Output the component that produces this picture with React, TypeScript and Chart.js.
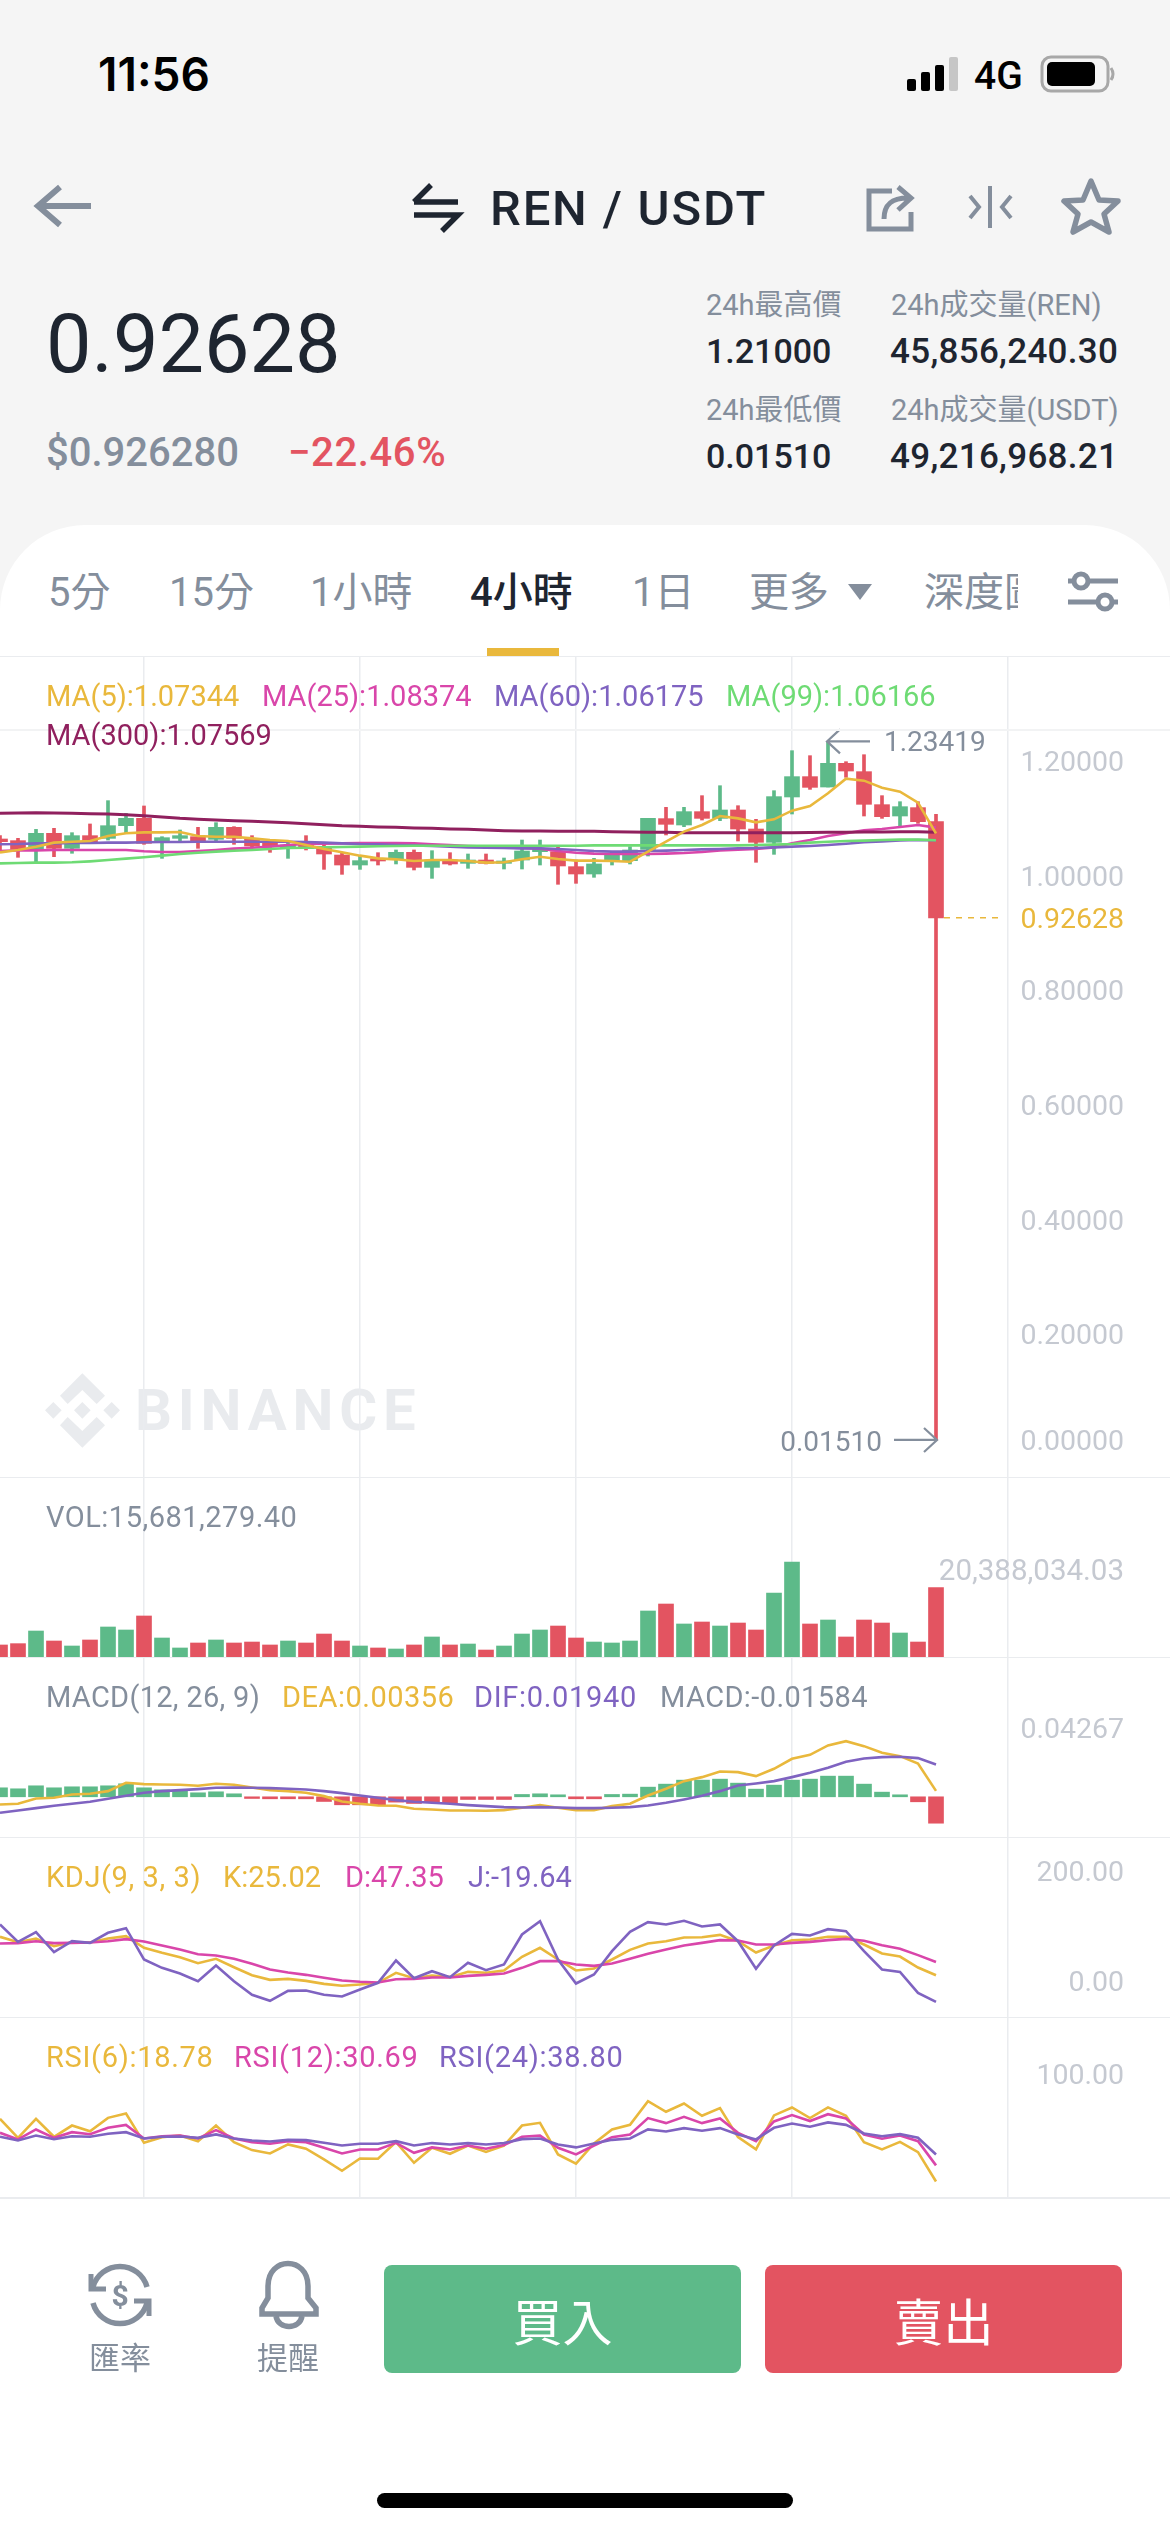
import React, { useEffect, useRef } from "react";
import { Chart, registerables } from "chart.js";

Chart.register(...registerables);

// ---------- values ----------
const candleSlots = Array.from({ length: 66 }, (_, i) => String(i));

const opens = [
  1.0639, 1.0610, 1.0458, 1.0738, 1.0476, 1.0697, 1.0650, 1.0871, 1.0999, 1.0592,
  1.0650, 1.0679, 1.0633, 1.0842, 1.0650, 1.0563, 1.0476, 1.0534, 1.0505, 1.0359,
  1.0185, 1.0296, 1.0290, 1.0406, 1.0144, 1.0272, 1.0214, 1.0272, 1.0214, 1.0272,
  1.0418, 1.0418, 1.0156, 1.0028, 1.0261, 1.0261, 1.0458, 1.0994, 1.0883, 1.1116,
  1.0999, 1.1145, 1.0813, 1.0581, 1.1372, 1.1727, 1.1546, 1.1959, 1.1814, 1.1238,
  1.1040, 1.1186, 1.0941,
];
const highs = [
  1.0697, 1.0650, 1.0807, 1.0825, 1.0749, 1.0901, 1.1308, 1.1087, 1.1215, 1.0679,
  1.0796, 1.0842, 1.0924, 1.0854, 1.0697, 1.0621, 1.0592, 1.0697, 1.0534, 1.0389,
  1.0342, 1.0400, 1.0447, 1.0447, 1.0435, 1.0400, 1.0377, 1.0377, 1.0307, 1.0621,
  1.0621, 1.0505, 1.0272, 1.0301, 1.0418, 1.0505, 1.0999, 1.1191, 1.1191, 1.1395,
  1.1569, 1.1220, 1.0982, 1.1482, 1.2180, 1.2093, 1.23419, 1.1988, 1.2110, 1.1395,
  1.1290, 1.1290, 1.1069,
];
const lows = [
  1.0418, 1.0319, 1.0243, 1.0330, 1.0389, 1.0563, 1.0621, 1.0749, 1.0546, 1.0301,
  1.0592, 1.0476, 1.0610, 1.0546, 1.0505, 1.0406, 1.0301, 1.0447, 1.0109, 1.0022,
  1.0109, 1.0185, 1.0203, 1.0098, 0.9952, 1.0185, 1.0127, 1.0203, 1.0115, 1.0115,
  1.0185, 0.9848, 0.9865, 0.9970, 1.0185, 1.0203, 1.0342, 1.0709, 1.0854, 1.0970,
  1.0959, 1.0604, 1.0232, 1.0371, 1.1075, 1.1505, 1.1546, 1.1715, 1.1040, 1.0999,
  1.0854, 1.0912, 0.0151,
];
const closes = [
  1.0592, 1.0458, 1.0738, 1.0476, 1.0697, 1.0592, 1.0871, 1.0999, 1.0563, 1.0662,
  1.0697, 1.0610, 1.0842, 1.0650, 1.0517, 1.0517, 1.0534, 1.0476, 1.0377, 1.0185,
  1.0261, 1.0255, 1.0406, 1.0144, 1.0272, 1.0203, 1.0272, 1.0214, 1.0255, 1.0429,
  1.0476, 1.0168, 1.0028, 1.0203, 1.0359, 1.0447, 1.0999, 1.0895, 1.1116, 1.0999,
  1.1145, 1.0813, 1.0581, 1.1378, 1.1727, 1.1540, 1.1959, 1.1825, 1.1244, 1.1028,
  1.1203, 1.0941, 0.92628,
];

const ma5 = [
  1.0406, 1.0447, 1.0505, 1.0575, 1.0592, 1.0604, 1.0691, 1.0738, 1.0755, 1.0755,
  1.0761, 1.0691, 1.0679, 1.0679, 1.0650, 1.0621, 1.0604, 1.0534, 1.0464, 1.0406,
  1.0348, 1.0301, 1.0284, 1.0255, 1.0272, 1.0272, 1.0255, 1.0226, 1.0232, 1.0284,
  1.0330, 1.0290, 1.0261, 1.0261, 1.0255, 1.0243, 1.0418, 1.0592, 1.0767, 1.0883,
  1.1040, 1.0999, 1.0930, 1.0982, 1.1133, 1.1215, 1.1436, 1.1692, 1.1657, 1.1535,
  1.1465, 1.1273, 1.07344,
];
const ma25 = [
  1.0429, 1.0441, 1.0441, 1.0447, 1.0447, 1.0447, 1.0447, 1.0447, 1.0424, 1.0412,
  1.0412, 1.0429, 1.0447, 1.0470, 1.0487, 1.0505, 1.0534, 1.0551, 1.0557, 1.0563,
  1.0569, 1.0569, 1.0569, 1.0563, 1.0546, 1.0534, 1.0517, 1.0505, 1.0493, 1.0482,
  1.0470, 1.0429, 1.0400, 1.0383, 1.0377, 1.0377, 1.0377, 1.0383, 1.0394, 1.0412,
  1.0441, 1.0453, 1.0464, 1.0493, 1.0563, 1.0621, 1.0691, 1.0738, 1.0790, 1.0813,
  1.0848, 1.0883, 1.08374,
];
const ma60 = [
  1.0546, 1.0551, 1.0563, 1.0563, 1.0569, 1.0569, 1.0575, 1.0575, 1.0581, 1.0586,
  1.0586, 1.0592, 1.0592, 1.0592, 1.0592, 1.0592, 1.0592, 1.0586, 1.0575, 1.0563,
  1.0551, 1.0546, 1.0534, 1.0528, 1.0517, 1.0505, 1.0493, 1.0487, 1.0482, 1.0476,
  1.0476, 1.0464, 1.0447, 1.0429, 1.0418, 1.0418, 1.0429, 1.0435, 1.0447, 1.0458,
  1.0464, 1.0476, 1.0482, 1.0493, 1.0505, 1.0517, 1.0534, 1.0557, 1.0581, 1.0598,
  1.0615, 1.0621, 1.06175,
];
const ma99 = [
  1.0214, 1.0220, 1.0226, 1.0226, 1.0232, 1.0249, 1.0272, 1.0296, 1.0319, 1.0348,
  1.0377, 1.0400, 1.0418, 1.0435, 1.0447, 1.0464, 1.0482, 1.0487, 1.0493, 1.0499,
  1.0505, 1.0511, 1.0517, 1.0520, 1.0522, 1.0522, 1.0522, 1.0522, 1.0522, 1.0522,
  1.0522, 1.0522, 1.0522, 1.0528, 1.0528, 1.0528, 1.0528, 1.0528, 1.0528, 1.0528,
  1.0528, 1.0528, 1.0534, 1.0540, 1.0551, 1.0575, 1.0592, 1.0604, 1.0610, 1.0621,
  1.0627, 1.0627, 1.06166,
];
const ma300 = [
  1.1087, 1.1093, 1.1098, 1.1093, 1.1087, 1.1081, 1.1075, 1.1063, 1.1046, 1.1023,
  1.0999, 1.0982, 1.0970, 1.0959, 1.0947, 1.0935, 1.0924, 1.0906, 1.0889, 1.0871,
  1.0860, 1.0848, 1.0842, 1.0831, 1.0825, 1.0813, 1.0807, 1.0796, 1.0784, 1.0778,
  1.0778, 1.0773, 1.0773, 1.0773, 1.0767, 1.0761, 1.0755, 1.0755, 1.0749, 1.0749,
  1.0749, 1.0749, 1.0749, 1.0749, 1.0749, 1.0752, 1.0755, 1.0755, 1.0761, 1.0761,
  1.0767, 1.0767, 1.07569,
];

const volumes = [
  2720000, 3020000, 5880000, 3620000, 2490000, 3850000, 6790000, 6110000, 9280000, 4300000,
  2040000, 3170000, 3850000, 3170000, 3390000, 2720000, 3620000, 3170000, 5200000, 3620000,
  2490000, 2040000, 1810000, 2720000, 4530000, 2720000, 2940000, 1580000, 2490000, 5200000,
  6110000, 7010000, 4300000, 3390000, 3170000, 3620000, 10410000, 11990000, 7470000, 7920000,
  7010000, 7690000, 6110000, 14480000, 21500000, 7470000, 8370000, 4530000, 8370000, 7690000,
  5430000, 3390000, 15681279.4,
];

const macdBars = [
  0.0054, 0.0048, 0.0066, 0.0054, 0.0060, 0.0060, 0.0066, 0.0078, 0.0054, 0.0042,
  0.0036, 0.0024, 0.0030, 0.0018, -0.0010, -0.0012, -0.0012, -0.0012, -0.0028, -0.0048,
  -0.0048, -0.0048, -0.0032, -0.0040, -0.0034, -0.0036, -0.0016, -0.0016, -0.0016, 0.0014,
  0.0018, 0.0012, -0.0012, -0.0012, 0.0014, 0.0016, 0.0058, 0.0076, 0.0100, 0.0100,
  0.0106, 0.0082, 0.0046, 0.0070, 0.0100, 0.0106, 0.0124, 0.0124, 0.0076, 0.0028,
  0.0012, -0.0030, -0.01584,
];
const dea = [
  -0.0046, -0.0042, -0.0010, -0.0006, 0.0014, 0.0018, 0.0034, 0.0084, 0.0076, 0.0074,
  0.0072, 0.0066, 0.0078, 0.0072, 0.0056, 0.0040, 0.0034, 0.0024, 0.0004, -0.0028,
  -0.0042, -0.0052, -0.0054, -0.0072, -0.0076, -0.0082, -0.0082, -0.0084, -0.0080, -0.0066,
  -0.0050, -0.0066, -0.0080, -0.0080, -0.0056, -0.0042, 0.0008, 0.0048, 0.0094, 0.0118,
  0.0152, 0.0148, 0.0124, 0.0168, 0.0228, 0.0252, 0.0308, 0.0334, 0.0304, 0.0264,
  0.0244, 0.0200, 0.00356,
];
const dif = [
  -0.0096, -0.0082, -0.0068, -0.0054, -0.0042, -0.0030, -0.0012, 0.0006, 0.0024, 0.0034,
  0.0040, 0.0046, 0.0054, 0.0056, 0.0054, 0.0052, 0.0048, 0.0044, 0.0034, 0.0022,
  0.0008, -0.0006, -0.0020, -0.0030, -0.0036, -0.0042, -0.0050, -0.0056, -0.0062, -0.0064,
  -0.0062, -0.0064, -0.0068, -0.0068, -0.0066, -0.0062, -0.0052, -0.0036, -0.0016, 0.0006,
  0.0034, 0.0068, 0.0080, 0.0094, 0.0118, 0.0144, 0.0174, 0.0210, 0.0230, 0.0238,
  0.0240, 0.0232, 0.0194,
];

const kdjK = [
  89.4, 80.4, 86.6, 73.7, 80.4, 79.9, 86.6, 90.5, 70.9, 62.6,
  55.3, 45.3, 52.5, 38.5, 25.1, 17.3, 19.0, 15.6, 10.6, 7.3,
  9.5, 12.3, 29.1, 20.1, 24.6, 21.8, 30.7, 29.1, 33.0, 55.9,
  70.9, 51.4, 33.0, 36.3, 51.4, 67.6, 78.2, 82.1, 88.3, 88.8,
  92.7, 82.1, 63.1, 74.9, 83.8, 84.9, 89.4, 89.4, 76.5, 61.5,
  56.4, 38.0, 25.02,
];
const kdjD = [
  78.2, 78.8, 82.1, 78.8, 79.3, 79.9, 82.1, 85.5, 81.6, 74.9,
  68.2, 60.3, 58.1, 52.5, 44.1, 34.6, 29.6, 25.7, 20.7, 16.2,
  14.0, 12.8, 18.4, 19.0, 21.2, 21.2, 24.0, 25.7, 27.9, 37.4,
  48.6, 48.6, 43.0, 40.8, 44.7, 52.5, 60.9, 68.2, 74.9, 79.3,
  83.8, 83.2, 76.5, 76.5, 79.3, 81.0, 83.8, 86.0, 82.7, 75.4,
  69.3, 58.7, 47.35,
];
const kdjJ = [
  110.1, 81.0, 97.2, 63.7, 82.1, 79.3, 96.1, 103.9, 51.4, 37.4,
  27.9, 15.1, 41.3, 15.1, -7.8, -17.9, -1.1, -0.6, -7.8, -10.6,
  1.1, 12.3, 49.7, 20.1, 31.8, 21.8, 45.8, 33.5, 43.0, 93.3,
  115.6, 51.4, 11.2, 26.3, 65.4, 97.8, 114.0, 110.1, 116.2, 106.7,
  110.1, 82.1, 35.8, 74.9, 94.4, 91.6, 102.2, 98.9, 65.4, 34.6,
  30.7, -4.5, -19.64,
];

const rsi6 = [
  65.2, 51.1, 65.2, 51.9, 60.2, 56.0, 65.9, 69.1, 47.4, 51.6,
  52.8, 48.6, 60.2, 47.9, 42.0, 39.5, 46.2, 43.0, 35.1, 26.7,
  35.8, 35.6, 47.9, 32.6, 43.7, 39.3, 45.4, 40.7, 45.4, 60.2,
  62.2, 38.8, 31.9, 46.9, 57.3, 60.7, 78.3, 70.4, 76.5, 67.4,
  73.1, 51.6, 42.5, 67.7, 73.6, 65.7, 73.6, 67.4, 47.9, 42.5,
  48.1, 40.5, 18.78,
];
const rsi12 = [
  54.8, 49.9, 57.3, 51.1, 55.3, 53.8, 58.5, 60.7, 50.6, 52.3,
  52.8, 50.6, 56.8, 50.6, 47.9, 46.7, 48.6, 47.9, 43.7, 39.5,
  42.5, 42.5, 47.4, 40.0, 44.0, 42.5, 45.4, 43.0, 45.7, 51.9,
  52.8, 43.7, 38.8, 45.4, 51.6, 53.6, 65.7, 62.0, 66.7, 62.0,
  65.4, 54.8, 48.6, 63.2, 67.9, 63.5, 68.6, 65.4, 53.6, 50.4,
  52.8, 48.6, 30.69,
];
const rsi24 = [
  51.9, 49.1, 52.8, 50.1, 52.3, 51.9, 54.1, 55.3, 50.6, 51.9,
  52.1, 51.1, 53.6, 50.6, 49.1, 48.4, 49.6, 49.4, 47.4, 45.4,
  46.7, 46.7, 48.6, 45.4, 47.2, 46.2, 47.2, 46.2, 47.2, 50.1,
  50.6, 46.2, 44.0, 46.9, 49.6, 50.6, 57.3, 55.8, 58.3, 56.3,
  58.3, 53.6, 49.9, 58.5, 61.7, 59.3, 62.5, 60.7, 54.3, 52.3,
  53.8, 51.1, 38.80,
];

const priceTicks = [1.2, 1.0, 0.92628, 0.8, 0.6, 0.4, 0.2, 0.0151];
const priceTickLabels = ["1.20000", "1.00000", "0.92628", "0.80000", "0.60000", "0.40000", "0.20000", "0.00000"];
const volumeTicks = [20388034.03];
const volumeTickLabels = ["20,388,034.03"];
const macdTicks = [0.04267];
const macdTickLabels = ["0.04267"];
const kdjTicks = [200, 16.2];
const kdjTickLabels = ["200.00", "0.00"];
const rsiTicks = [100];
const rsiTickLabels = ["100.00"];

const statLabels = ["24h最高價", "24h成交量(REN)", "24h最低價", "24h成交量(USDT)"];
const statValues = ["1.21000", "45,856,240.30", "0.01510", "49,216,968.21"];

// ---------- styling ----------
const GREEN = "#5dba89";
const RED = "#e35461";
const GOLD = "#e9b83c";
const PINK = "#d946aa";
const PURPLE = "#7f63c1";
const LIME = "#6edb74";
const PLUM = "#90205e";
const GRAY = "#848e9c";
const DARK = "#1e2530";
const TICK = "#c5c9d1";
const GRID = "#eaecef";
const FONT = 'Roboto, "Noto Sans CJK TC", sans-serif';

const candleColors = opens.map((o, i) => (closes[i] >= o ? GREEN : RED));

function line(label: string, data: number[], color: string, order: number, width = 2.6) {
  return {
    type: "line" as const,
    label,
    data,
    borderColor: color,
    backgroundColor: color,
    borderWidth: width,
    pointRadius: 0,
    tension: 0,
    order,
  };
}

function paneOptions(min: number, max: number, ticks: number[], tickLabels: string[], extra: any = {}) {
  return {
    responsive: false,
    animation: false as const,
    layout: { padding: 0 },
    plugins: { legend: { display: false }, tooltip: { enabled: false }, title: { display: false } },
    scales: {
      x: {
        type: "category" as const,
        offset: false,
        border: { display: false },
        grid: {
          offset: false,
          drawTicks: false,
          lineWidth: 1.5,
          color: (c: any) => (c.index % 12 === 8 ? GRID : "rgba(0,0,0,0)"),
        },
        ticks: { display: false, autoSkip: false },
      },
      y: {
        position: "right" as const,
        min,
        max,
        border: { display: false },
        grid: { display: false, drawTicks: false },
        afterBuildTicks: (s: any) => {
          s.ticks = ticks.map((value) => ({ value }));
        },
        afterFit: (s: any) => {
          s.width = 0;
          s.paddingTop = 0;
          s.paddingBottom = 0;
        },
        ticks: {
          mirror: true,
          padding: -46,
          autoSkip: false,
          labelOffset: extra.labelOffset ?? 0,
          font: { family: "Roboto", size: extra.tickSize ?? 28.5 },
          color: extra.tickColor ?? TICK,
          callback: (_v: any, i: number) => tickLabels[i],
        },
      },
    },
  };
}

const annotationPlugin = {
  id: "priceNotes",
  afterDatasetsDraw(chart: any) {
    const { ctx, scales } = chart;
    const x = scales.x;
    const y = scales.y;
    ctx.save();
    // last price dashed leader
    ctx.strokeStyle = GOLD;
    ctx.lineWidth = 1.5;
    ctx.setLineDash([6, 6]);
    ctx.beginPath();
    ctx.moveTo(x.getPixelForValue(52) + 8, y.getPixelForValue(0.92628));
    ctx.lineTo(x.getPixelForValue(56) - 4, y.getPixelForValue(0.92628));
    ctx.stroke();
    ctx.setLineDash([]);

    ctx.strokeStyle = GRAY;
    ctx.fillStyle = GRAY;
    ctx.lineWidth = 2.2;
    ctx.font = "28px Roboto";
    ctx.textBaseline = "middle";

    // highest price note
    const hx = x.getPixelForValue(46) - 1;
    const hy = y.getPixelForValue(1.23419);
    ctx.beginPath();
    ctx.moveTo(hx + 43, hy);
    ctx.lineTo(hx, hy);
    ctx.moveTo(hx + 13, hy - 12);
    ctx.lineTo(hx, hy);
    ctx.lineTo(hx + 13, hy + 12);
    ctx.stroke();
    ctx.textAlign = "left";
    ctx.fillText("1.23419", hx + 57, hy + 3);

    // lowest price note
    const lx = x.getPixelForValue(52) + 1;
    const ly = y.getPixelForValue(0.0151);
    ctx.beginPath();
    ctx.moveTo(lx - 43, ly);
    ctx.lineTo(lx, ly);
    ctx.moveTo(lx - 13, ly - 12);
    ctx.lineTo(lx, ly);
    ctx.lineTo(lx - 13, ly + 12);
    ctx.stroke();
    ctx.textAlign = "right";
    ctx.fillText("0.01510", lx - 55, ly + 4);
    ctx.restore();
  },
};

function Pane({ top, height, build }: { top: number; height: number; build: () => any }) {
  const ref = useRef<HTMLCanvasElement | null>(null);
  useEffect(() => {
    if (!ref.current) return;
    const chart = new Chart(ref.current, build());
    return () => chart.destroy();
  }, []);
  return (
    <canvas
      ref={ref}
      width={1170}
      height={height}
      style={{ position: "absolute", left: 0, top, width: 1170, height, display: "block" }}
    />
  );
}

const buildMain = () => ({
  type: "bar" as const,
  data: {
    labels: candleSlots,
    datasets: [
      line("MA(5)", ma5, GOLD, 0),
      line("MA(25)", ma25, PINK, 3),
      line("MA(60)", ma60, PURPLE, 2),
      line("MA(99)", ma99, LIME, 1),
      line("MA(300)", ma300, PLUM, 0, 3),
      {
        type: "bar" as const,
        label: "body",
        data: opens.map((o, i) => [o, closes[i]]),
        backgroundColor: candleColors,
        barThickness: 15,
        grouped: false,
        order: 5,
      },
      {
        type: "bar" as const,
        label: "wick",
        data: lows.map((l, i) => [l, highs[i]]),
        backgroundColor: candleColors,
        barThickness: 3,
        grouped: false,
        order: 6,
      },
    ],
  },
  options: paneOptions(-0.04956, 1.3815, priceTicks, priceTickLabels, {
    labelOffset: 3,
    tickColor: (c: any) => (priceTickLabels[c.index] === "0.92628" ? GOLD : TICK),
  }),
  plugins: [annotationPlugin],
});

const buildVolume = () => ({
  type: "bar" as const,
  data: {
    labels: candleSlots,
    datasets: [
      {
        label: "VOL",
        data: volumes,
        backgroundColor: candleColors,
        barThickness: 15,
        grouped: false,
      },
    ],
  },
  options: paneOptions(0, 40730000, volumeTicks, volumeTickLabels, { labelOffset: 6, tickSize: 29.5 }),
});

const buildMacd = () => ({
  type: "bar" as const,
  data: {
    labels: candleSlots,
    datasets: [
      line("DEA", dea, GOLD, 1),
      line("DIF", dif, PURPLE, 0),
      {
        type: "bar" as const,
        label: "MACD",
        data: macdBars,
        backgroundColor: macdBars.map((v) => (v >= 0 ? GREEN : RED)),
        barThickness: 15,
        grouped: false,
        order: 3,
      },
    ],
  },
  options: paneOptions(-0.02412, 0.08388, macdTicks, macdTickLabels, { labelOffset: 5 }),
});

const buildKdj = () => ({
  type: "line" as const,
  data: {
    labels: candleSlots,
    datasets: [line("J", kdjJ, PURPLE, 0), line("D", kdjD, PINK, 1), line("K", kdjK, GOLD, 2)],
  },
  options: paneOptions(-44.96, 256.7, kdjTicks, kdjTickLabels, { labelOffset: 3 }),
});

const buildRsi = () => ({
  type: "line" as const,
  data: {
    labels: candleSlots,
    datasets: [line("RSI(24)", rsi24, PURPLE, 0), line("RSI(12)", rsi12, PINK, 1), line("RSI(6)", rsi6, GOLD, 2)],
  },
  options: paneOptions(7.26, 140.6, rsiTicks, rsiTickLabels, { labelOffset: 5 }),
});

// ---------- page text helpers ----------
function T({ x, y, size = 29, color = GRAY, weight = 400, children, right, spacing = 0, style }: any) {
  return (
    <div
      style={{
        position: "absolute",
        left: right === undefined ? x : undefined,
        right: right === undefined ? undefined : 1170 - right,
        top: y,
        transform: "translateY(-50%)",
        fontFamily: FONT,
        fontSize: size,
        lineHeight: 1,
        color,
        fontWeight: weight,
        whiteSpace: "nowrap",
        letterSpacing: spacing,
        ...style,
      }}
    >
      {children}
    </div>
  );
}

const HLine = ({ y, h = 1.5, color = GRID }: { y: number; h?: number; color?: string }) => (
  <div style={{ position: "absolute", left: 0, width: 1170, top: y, height: h, background: color }} />
);

export default function App() {
  useEffect(() => {
    document.body.style.margin = "0";
    document.body.style.background = "#fff";
  }, []);

  return (
    <div style={{ position: "relative", width: 1170, height: 2532, overflow: "hidden", background: "#f5f5f5" }}>
      {/* white card */}
      <div
        style={{
          position: "absolute",
          left: 0,
          top: 525,
          width: 1170,
          height: 2007,
          background: "#fff",
          borderTopLeftRadius: 85,
          borderTopRightRadius: 85,
        }}
      />

      {/* status bar */}
      <T x={98} y={74} size={46} color="#000" weight={600} style={{ fontFamily: "Inter" }}>11:56</T>
      <T x={974} y={76} size={39} color="#000" weight={500}>4G</T>

      {/* nav */}
      <T x={490} y={208} size={49} color={DARK} weight={500} spacing={1.8}>REN / USDT</T>

      {/* price block */}
      <T x={46} y={344} size={81} color={DARK} weight={400}>0.92628</T>
      <T x={46} y={453} size={40} color={GRAY} weight={500}>$0.926280</T>
      <T x={288} y={453} size={40} color={RED} weight={500} spacing={0.6}>−22.46%</T>

      <T x={706} y={305} size={29} color={GRAY}>{statLabels[0]}</T>
      <T x={891} y={305} size={29} color={GRAY}>{statLabels[1]}</T>
      <T x={706} y={351} size={34} color={DARK} weight={500}>{statValues[0]}</T>
      <T x={890} y={351} size={35} color={DARK} weight={500} spacing={0.3}>{statValues[1]}</T>
      <T x={706} y={410} size={29} color={GRAY}>{statLabels[2]}</T>
      <T x={891} y={410} size={29} color={GRAY}>{statLabels[3]}</T>
      <T x={706} y={456} size={34} color={DARK} weight={500}>{statValues[2]}</T>
      <T x={890} y={456} size={35} color={DARK} weight={500} spacing={0.3}>{statValues[3]}</T>

      {/* tabs */}
      <T x={48} y={593} size={40}>5分</T>
      <T x={169} y={593} size={40}>15分</T>
      <T x={310} y={593} size={40}>1小時</T>
      <T x={470} y={593} size={40} color={DARK} weight={500}>4小時</T>
      <T x={632} y={593} size={40}>1日</T>
      <T x={749} y={593} size={40}>更多</T>
      <div style={{ position: "absolute", left: 924, top: 570, width: 94, height: 46, overflow: "hidden" }}>
        <T x={0} y={23} size={40}>深度圖</T>
      </div>
      <div style={{ position: "absolute", left: 487, top: 648, width: 72, height: 8, background: GOLD }} />

      {/* watermark, under the chart */}
      <svg
        width={420}
        height={110}
        viewBox="0 0 1260 330"
        style={{ position: "absolute", left: 30, top: 1350 }}
        fill="#e9ebee"
      >
        <path d="M157 70 L225 137 L200 162 L157 120 L113 162 L90 137 Z" />
        <path d="M157 293 L225 226 L200 201 L157 243 L113 201 L90 226 Z" />
        <path d="M157 156 L182 181 L157 206 L132 181 Z" />
        <path d="M70 156 L95 181 L70 206 L45 181 Z" />
        <path d="M245 156 L270 181 L245 206 L220 181 Z" />
      </svg>
      <T x={135} y={1410} size={58} color="#e9ebee" weight={700} spacing={5.8}>BINANCE</T>

      {/* panes */}
      <Pane top={657} height={820} build={buildMain} />
      <Pane top={1477} height={180} build={buildVolume} />
      <Pane top={1657} height={180} build={buildMacd} />
      <Pane top={1837} height={180} build={buildKdj} />
      <Pane top={2017} height={180} build={buildRsi} />

      {/* separators */}
      <HLine y={655.5} />
      <HLine y={729} h={2} color="#f2f3f4" />
      <HLine y={1476.5} />
      <HLine y={1656.5} />
      <HLine y={1836.5} />
      <HLine y={2016.5} />
      <HLine y={2196.5} h={2} />

      {/* legends */}
      <T x={46} y={696} color={GOLD}>MA(5):1.07344</T>
      <T x={262} y={696} color={PINK}>MA(25):1.08374</T>
      <T x={494} y={696} color={PURPLE}>MA(60):1.06175</T>
      <T x={726} y={696} color={LIME}>MA(99):1.06166</T>
      <T x={46} y={735} color={PLUM}>MA(300):1.07569</T>

      <T x={46} y={1517} spacing={0.5}>VOL:15,681,279.40</T>

      <T x={46} y={1697} spacing={0.3}>MACD(12, 26, 9)</T>
      <T x={282} y={1697} color={GOLD} spacing={0.5}>DEA:0.00356</T>
      <T x={474} y={1697} color={PURPLE} spacing={0.7}>DIF:0.01940</T>
      <T x={660} y={1697} spacing={0.4}>MACD:-0.01584</T>

      <T x={46} y={1877} color={GOLD} spacing={0.6}>KDJ(9, 3, 3)</T>
      <T x={223} y={1877} color={GOLD}>K:25.02</T>
      <T x={345} y={1877} color={PINK}>D:47.35</T>
      <T x={468} y={1877} color={PURPLE}>J:-19.64</T>

      <T x={46} y={2057} color={GOLD} spacing={0.7}>RSI(6):18.78</T>
      <T x={234} y={2057} color={PINK} spacing={0.7}>RSI(12):30.69</T>
      <T x={439} y={2057} color={PURPLE} spacing={0.7}>RSI(24):38.80</T>

      {/* icons */}
      <svg
        width={1170}
        height={2532}
        viewBox="0 0 1170 2532"
        style={{ position: "absolute", left: 0, top: 0, pointerEvents: "none" }}
      >
        {/* signal */}
        <rect x={907} y={79} width={9} height={12} rx={2} fill="#000" />
        <rect x={921} y={72} width={9} height={19} rx={2} fill="#000" />
        <rect x={935} y={65} width={9} height={26} rx={2} fill="#000" />
        <rect x={949} y={57} width={9} height={34} rx={2} fill="#c6c6c6" />
        {/* battery */}
        <rect x={1042} y={57} width={66} height={34} rx={9} fill="none" stroke="#a8a8a8" strokeWidth={3} />
        <rect x={1047} y={62} width={48} height={24} rx={5} fill="#000" />
        <path d="M1111 68 Q1115 74 1111 80" fill="none" stroke="#a8a8a8" strokeWidth={3} />
        {/* back */}
        <path d="M91 206 H40 M60 187 L38 206 L60 225" fill="none" stroke={GRAY} strokeWidth={6} />
        {/* swap */}
        <path d="M414 202 L431 185 M414 202 H458 M414 215 H458 L442 231" fill="none" stroke={DARK} strokeWidth={5.5} />
        {/* share */}
        <path d="M892 191 H869 V229 H911 V212" fill="none" stroke={GRAY} strokeWidth={5} />
        <path d="M884 219 C884 203 893 198 908 198 M898 187 L911 198 L898 210" fill="none" stroke={GRAY} strokeWidth={5} />
        {/* depth */}
        <path d="M990 186 V228" stroke={GRAY} strokeWidth={4} />
        <path d="M970 196 L979 207 L970 218 M1011 196 L1002 207 L1011 218" fill="none" stroke={GRAY} strokeWidth={4} />
        {/* star */}
        <path
          d="M1091 181 L1099 200 L1118 201 L1104 214 L1109 232 L1091 222 L1073 232 L1078 214 L1064 201 L1083 200 Z"
          fill="none"
          stroke={GRAY}
          strokeWidth={5.5}
          strokeLinejoin="round"
        />
        {/* dropdown */}
        <path d="M848 584 H872 L860 600 Z" fill={GRAY} />
        {/* settings */}
        <path d="M1068 581 H1118 M1068 602 H1118" stroke={GRAY} strokeWidth={5} />
        <circle cx={1081} cy={581} r={7} fill="#fff" stroke={GRAY} strokeWidth={5} />
        <circle cx={1105} cy={602} r={7} fill="#fff" stroke={GRAY} strokeWidth={5} />
        {/* rate */}
        <path d="M93 2287 A28 28 0 0 1 147 2287 M147 2303 A28 28 0 0 1 93 2303" fill="none" stroke={GRAY} strokeWidth={5.5} />
        <path d="M91 2274 V2289 H106 M149 2316 V2301 H134" fill="none" stroke={GRAY} strokeWidth={5} />
        <text x={120} y={2306} textAnchor="middle" fontFamily="Roboto" fontWeight={700} fontSize={30} fill={GRAY}>$</text>
        {/* bell */}
        <path d="M262 2314 V2308 L268 2298 V2286 C268 2256 308 2256 308 2286 V2298 L316 2308 V2314 Z" fill="none" stroke={GRAY} strokeWidth={5.5} />
        <path d="M276 2316 C278 2330 300 2330 302 2316" fill="none" stroke={GRAY} strokeWidth={5.5} />
      </svg>

      {/* bottom bar */}
      <T x={120} y={2358} size={31} style={{ transform: "translate(-50%,-50%)" }}>匯率</T>
      <T x={288} y={2358} size={31} style={{ transform: "translate(-50%,-50%)" }}>提醒</T>
      <div
        style={{
          position: "absolute", left: 384, top: 2265, width: 357, height: 108, borderRadius: 8, background: GREEN,
          display: "flex", alignItems: "center", justifyContent: "center", color: "#fff", fontSize: 50, fontFamily: FONT,
        }}
      >買入</div>
      <div
        style={{
          position: "absolute", left: 765, top: 2265, width: 357, height: 108, borderRadius: 8, background: RED,
          display: "flex", alignItems: "center", justifyContent: "center", color: "#fff", fontSize: 50, fontFamily: FONT,
        }}
      >賣出</div>
      <div style={{ position: "absolute", left: 377, top: 2493, width: 416, height: 15, borderRadius: 8, background: "#000" }} />
    </div>
  );
}
